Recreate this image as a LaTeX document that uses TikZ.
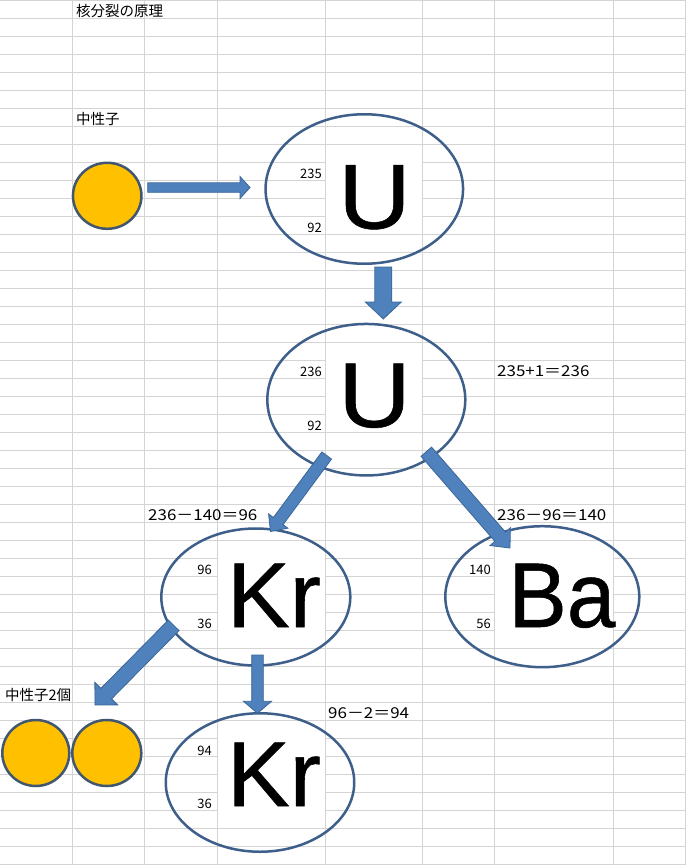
\documentclass[tikz,border=0pt]{standalone}
\usepackage{fontspec}
\usepackage{graphicx}
\usetikzlibrary{calc,shapes.geometric}
\newfontfamily\jp{Noto Sans CJK JP}
\newfontfamily\arl[FakeBold=0.6]{Liberation Sans}
\definecolor{gridc}{HTML}{D4D4D4}
\definecolor{ellc}{HTML}{3E5F8A}
\definecolor{neuc}{HTML}{FFC000}
\definecolor{neul}{HTML}{41566F}
\definecolor{arrf}{HTML}{4F81BD}
\definecolor{arrl}{HTML}{3A6698}
% #1 tail, #2 tip, #3 half shaft width, #4 half head width, #5 head length
\newcommand\blockarrow[5]{%
  \coordinate (bh) at ($(#2)!#5!(#1)$);
  \draw[arrowstyle] ($(#1)!#3!90:(#2)$) -- ($(bh)!#3!-90:(#1)$) -- ($(bh)!#4!-90:(#1)$) -- (#2) -- ($(bh)!#4!90:(#1)$) -- ($(bh)!#3!90:(#1)$) -- ($(#1)!#3!-90:(#2)$) -- cycle;}
\begin{document}
\begin{tikzpicture}[x=1pt,y=-1pt,
  nucl/.style={ellipse, draw=ellc, line width=2.5pt, inner sep=0pt},
  neut/.style={ellipse, draw=neul, fill=neuc, line width=2.5pt, inner sep=0pt},
  arrowstyle/.style={fill=arrf, draw=arrl, line width=0.8pt, line join=miter},
  small/.style={inner sep=0pt, anchor=base east, font=\jp\fontsize{13pt}{13pt}\selectfont},
  eqn/.style={inner sep=0pt, anchor=base west, font=\jp\fontsize{15pt}{15pt}\selectfont},
  jtext/.style={inner sep=0pt, anchor=base west, font=\jp\fontsize{14.5pt}{14.5pt}\selectfont},
  big/.style={inner sep=0pt, anchor=base, font=\arl\fontsize{92pt}{92pt}\selectfont},
  cell/.style={fill=white, draw=none},
  gridline/.style={draw=gridc, line width=1pt}]

\useasboundingbox (0,0) rectangle (686,865);
\fill[white] (0,0) rectangle (686,865);
% spreadsheet grid
\foreach \k in {0,...,48} \draw[gridline] (0,{18.01*\k}) -- (686,{18.01*\k});
\foreach \x in {72,144,217,325,422,494,613,685} \draw[gridline] (\x,0) -- (\x,865);

% white cells behind the big symbols
\fill[cell] (325.5,144.6) rectangle (421.5,233.6);
\fill[cell] (325.5,342.7) rectangle (421.5,431.7);
\fill[cell] (217.5,540.8) rectangle (324.5,647.9);
\fill[cell] (494.5,540.8) rectangle (612.5,647.9);
\fill[cell] (217.5,720.9) rectangle (324.5,828.0);

% nuclei
\node[nucl, minimum width=197.5pt, minimum height=149.5pt] (u1) at (364.3,189) {};
\node[nucl, minimum width=198pt, minimum height=151.5pt] (u2) at (366.3,399.7) {};
\node[nucl, minimum width=189pt, minimum height=137pt] (kr1) at (255.8,597) {};
\node[nucl, minimum width=194pt, minimum height=141pt] (ba) at (542.3,596.7) {};
\node[nucl, minimum width=188.5pt, minimum height=138.5pt] (kr2) at (260,782.5) {};

% neutrons
\node[neut, minimum width=68.5pt, minimum height=66pt] (n1) at (107.2,195.8) {};
\node[neut, minimum width=67pt, minimum height=66pt] (n2) at (35.8,753) {};
\node[neut, minimum width=69pt, minimum height=66pt] (n3) at (106.8,753) {};

% symbols
\node[big] (u1t) at (374.5,228.5) {\scalebox{1.09}[1]{U}};
\node[big] (u2t) at (374.5,427) {\scalebox{1.09}[1]{U}};
\node[big] (kr1t) at (274,627) {\scalebox{1.02}[1]{Kr}};
\node[big] (bat) at (562,627) {\scalebox{0.95}[1]{Ba}};
\node[big] (kr2t) at (274,806) {\scalebox{1.02}[1]{Kr}};

% mass / atomic numbers
\node[small] (m1) at (322,178) {235};
\node[small] (z1) at (322,232) {92};
\node[small] (m2) at (322,376) {236};
\node[small] (z2) at (322,430) {92};
\node[small] (m3) at (212,574) {96};
\node[small] (z3) at (212,628) {36};
\node[small] (m4) at (491,574) {140};
\node[small] (z4) at (491,628) {56};
\node[small] (m5) at (212,755) {94};
\node[small] (z5) at (212,808) {36};

% texts
\node[jtext] (title) at (76,16) {核分裂の原理};
\node[jtext] (lbn) at (76,124) {中性子};
\node[jtext] (lbn2) at (5,700) {中性子2個};
\node[eqn] (e1) at (497,376) {\scalebox{1.13}[1]{235+1＝236}};
\node[eqn] (e2) at (497,520) {\scalebox{1.13}[1]{236－96＝140}};
\node[eqn] (e3) at (148,520) {\scalebox{1.13}[1]{236－140＝96}};
\node[eqn] (e4) at (328,718) {\scalebox{1.13}[1]{96－2＝94}};

% arrow end points
\coordinate (aAs) at (147.7,187.5); \coordinate (aAe) at (250,187.5);
\coordinate (aBs) at (383.3,267);   \coordinate (aBe) at (383.3,319);
\coordinate (aCs) at (326.7,455.5); \coordinate (aCe) at (270.5,531.5);
\coordinate (aDs) at (426.3,451.7); \coordinate (aDe) at (510,548);
\coordinate (aEs) at (173.7,625.3); \coordinate (aEe) at (95,705);
\coordinate (aFs) at (257.5,655);   \coordinate (aFe) at (257.5,713.3);

\blockarrow{aAs}{aAe}{4.75pt}{11pt}{10pt}
\blockarrow{aBs}{aBe}{8.5pt}{18pt}{17pt}
\blockarrow{aCs}{aCe}{6pt}{12pt}{13pt}
\blockarrow{aDs}{aDe}{7pt}{13.5pt}{15pt}
\blockarrow{aEs}{aEe}{7.5pt}{16pt}{16pt}
\blockarrow{aFs}{aFe}{5.8pt}{14pt}{12pt}
\end{tikzpicture}
\end{document}
